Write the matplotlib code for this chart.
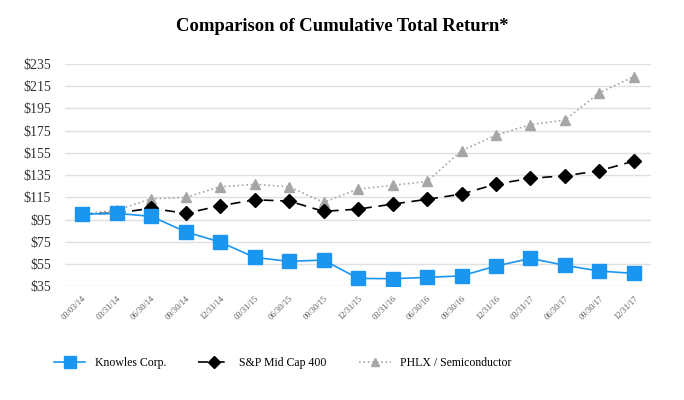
import matplotlib.pyplot as plt

# quarter-end dates
dates = ['03/03/14', '03/31/14', '06/30/14', '09/30/14', '12/31/14',
         '03/31/15', '06/30/15', '09/30/15', '12/31/15', '03/31/16',
         '06/30/16', '09/30/16', '12/31/16', '03/31/17', '06/30/17',
         '09/30/17', '12/31/17']

knowles = [100, 100.7, 98, 84.1, 74.9, 61.1, 57.5, 58.7, 42.2, 41.9,
           43.1, 44.5, 53.3, 60.2, 53.9, 48.8, 46.7]
sp_midcap = [100, 101, 105.2, 100.7, 107.5, 112.9, 111.7, 102.5, 104.5, 109,
             113.3, 118, 127, 132.2, 134.5, 139, 147.7]
phlx_semi = [100, 103.5, 113.8, 115, 124.6, 126.8, 124.6, 110.6, 122.5, 125.9,
             129.4, 157, 171, 180.4, 184.6, 209.2, 223.6]

yticks = list(range(35, 236, 20))

plt.rcParams['font.family'] = ['Liberation Serif', 'DejaVu Serif']

fig = plt.figure(figsize=(6.84, 4.0), dpi=100)
ax = fig.add_axes([0.095, 0.284, 0.857, 0.556])

x = list(range(len(dates)))
ax.plot(x, phlx_semi, color='#a6a6a6', linestyle=':', linewidth=1.2,
        marker='^', markersize=7.5, label='PHLX / Semiconductor', zorder=3)
ax.plot(x, sp_midcap, color='black', linestyle=(0, (6, 4)), linewidth=1.2,
        marker='D', markersize=7, label='S&P Mid Cap 400', zorder=4)
ax.plot(x, knowles, color='#1a96f0', linestyle='-', linewidth=1.2,
        marker='s', markersize=9.5, label='Knowles Corp.', zorder=5)

ax.set_xlim(-0.5, len(dates) - 0.5)
ax.set_ylim(35, 235)
ax.set_yticks(yticks)
ax.set_yticklabels(['${}'.format(v) for v in yticks], fontsize=10, color='#333333')
ax.set_xticks(x)
ax.set_xticklabels(dates, rotation=45, ha='right', va='top', rotation_mode='anchor',
                   fontsize=6, color='#555555')
ax.tick_params(axis='y', length=0, pad=10)
ax.tick_params(axis='x', length=0, pad=6)
ax.grid(axis='y', color='#e0e0e0', linewidth=1)
ax.set_axisbelow(True)
for s in ax.spines.values():
    s.set_visible(False)

fig.suptitle('Comparison of Cumulative Total Return*', fontsize=13.4,
             fontweight='bold', y=0.955)

handles, labels = ax.get_legend_handles_labels()
order = [2, 1, 0]
fig.legend([handles[i] for i in order], [labels[i] for i in order],
           loc='center', bbox_to_anchor=(0.413, 0.0925), ncol=3, frameon=False,
           fontsize=8.5, handlelength=2.7, columnspacing=2.7, handletextpad=0.8,
           markerscale=0.85)

plt.savefig('out.png', dpi=100)
